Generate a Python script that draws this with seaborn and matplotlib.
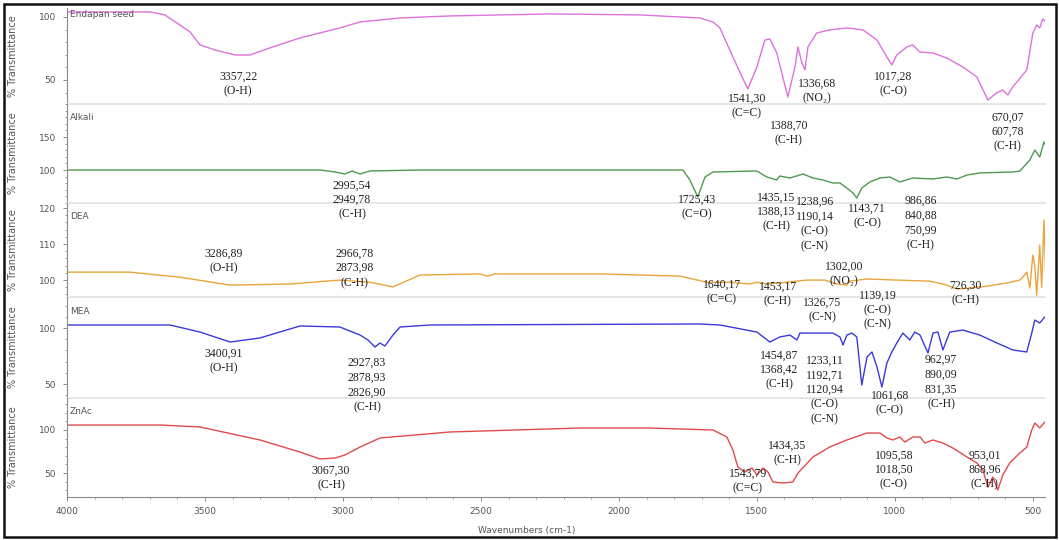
import matplotlib
matplotlib.use("Agg")
import matplotlib.pyplot as plt
from matplotlib.patches import Rectangle
from matplotlib.ticker import AutoMinorLocator, FixedLocator
import seaborn as sns
import pandas as pd

# ---------------- spectra (wavenumber cm-1, % transmittance) ----------------
endapan_wn = [4000, 3699, 3645, 3591, 3554, 3518, 3464, 3391, 3337, 3265, 3156, 3011, 2938,
              2793, 2612, 2250, 1924, 1707, 1659, 1634, 1587, 1533, 1500, 1471, 1453, 1428,
              1388, 1362, 1351, 1337, 1326, 1315, 1283, 1236, 1174, 1116, 1065, 1029, 1011,
              993, 957, 935, 910, 862, 812, 754, 703, 663, 631, 609, 591, 573, 522, 500,
              486, 475, 464, 450]
endapan_t = [104.0, 104.0, 101.6, 93.6, 88.1, 77.8, 73.8, 69.8, 69.8, 75.4, 83.3, 91.3, 96.0,
             99.2, 100.8, 102.4, 101.6, 99.2, 96.0, 91.3, 68.2, 42.8, 60.3, 81.7, 82.5, 71.4,
             36.5, 60.3, 76.2, 63.5, 57.9, 76.2, 87.3, 89.7, 91.3, 89.7, 81.7, 68.2, 61.9,
             69.8, 76.2, 77.8, 72.2, 71.4, 67.4, 60.3, 52.4, 34.1, 39.7, 42.0, 38.1, 44.4,
             57.9, 87.3, 93.6, 91.3, 98.4, 95.2]

alkali_wn = [4000, 3083, 3029, 2993, 2967, 2938, 2902, 2721, 1768, 1743, 1714, 1688, 1659,
             1500, 1464, 1428, 1417, 1380, 1333, 1297, 1261, 1225, 1199, 1174, 1152, 1138,
             1120, 1091, 1054, 1018, 982, 935, 862, 812, 775, 739, 692, 573, 547, 511, 493,
             475, 460, 450]
alkali_t = [100.0, 100.0, 97.0, 93.9, 98.5, 93.9, 98.5, 100.0, 100.0, 84.9, 59.1, 89.4, 97.0,
            98.5, 89.4, 84.9, 90.9, 87.9, 93.9, 87.9, 84.9, 80.3, 80.3, 72.7, 65.2, 57.6,
            72.7, 81.8, 87.9, 89.4, 81.8, 87.9, 86.4, 89.4, 86.4, 92.4, 95.5, 97.0, 98.5,
            115.2, 130.3, 119.7, 142.4, 134.8]

dea_wn = [4000, 3772, 3591, 3409, 3192, 3011, 2902, 2819, 2721, 2504, 2478, 2449, 2069, 1779,
          1681, 1598, 1525, 1500, 1464, 1391, 1319, 1254, 1210, 1174, 1163, 1101, 993, 873,
          812, 775, 728, 667, 594, 547, 533, 522, 511, 500, 493, 486, 475, 468, 460, 453, 450]
dea_t = [102.2, 102.2, 100.8, 98.6, 98.9, 100.0, 99.4, 98.1, 101.4, 101.7, 101.1, 101.7, 101.7,
         101.1, 99.4, 99.4, 98.9, 99.4, 98.9, 99.4, 100.0, 100.0, 98.9, 98.6, 99.7, 100.3,
         100.0, 99.7, 98.6, 97.5, 97.8, 98.3, 99.2, 100.0, 101.1, 102.2, 97.8, 106.9, 104.0,
         95.8, 109.7, 98.0, 116.7, 100.0, 112.5]

mea_wn = [4000, 3627, 3518, 3409, 3301, 3156, 3011, 2938, 2909, 2884, 2866, 2848, 2819, 2793,
          2685, 1707, 1634, 1500, 1453, 1417, 1380, 1355, 1344, 1225, 1199, 1188, 1174, 1156,
          1138, 1120, 1101, 1083, 1065, 1047, 1029, 1011, 993, 971, 946, 928, 909, 880, 862,
          844, 826, 801, 754, 692, 630, 573, 522, 504, 493, 475, 457, 439]
mea_t = [102.7, 102.7, 96.4, 87.5, 91.1, 101.8, 100.9, 93.7, 89.3, 83.0, 86.6, 83.9, 93.7,
         100.9, 102.7, 103.6, 102.7, 96.4, 87.5, 92.0, 93.7, 89.3, 95.5, 95.5, 92.0, 84.8,
         93.7, 95.5, 92.0, 49.1, 74.1, 78.6, 65.2, 47.3, 68.7, 78.6, 86.6, 95.5, 89.3, 96.4,
         93.7, 77.7, 95.5, 96.4, 80.4, 96.4, 98.2, 93.7, 86.6, 80.4, 78.6, 95.5, 107.1,
         104.5, 109.8, 104.5]

znac_wn = [4000, 3663, 3518, 3301, 3156, 3083, 3029, 2993, 2938, 2866, 2612, 2141, 1888, 1659,
           1609, 1587, 1569, 1544, 1518, 1500, 1478, 1460, 1442, 1406, 1370, 1351, 1297, 1236,
           1174, 1101, 1054, 1029, 1007, 982, 964, 935, 909, 891, 862, 826, 790, 739, 703,
           681, 663, 645, 627, 609, 584, 547, 522, 504, 493, 475, 457, 439]
znac_t = [105.8, 105.8, 103.5, 88.4, 74.4, 66.3, 67.4, 70.9, 80.2, 90.7, 97.7, 102.3, 102.3,
          100.0, 91.9, 76.7, 57.0, 51.2, 55.8, 47.7, 55.8, 51.2, 39.5, 38.4, 39.5, 50.0, 68.6,
          80.2, 88.4, 96.5, 96.5, 90.7, 88.4, 91.9, 86.0, 91.9, 91.9, 84.9, 88.4, 84.9, 79.1,
          68.6, 61.6, 53.5, 33.7, 45.3, 30.2, 47.7, 61.6, 73.3, 80.2, 100.0, 108.1, 102.3,
          109.3, 105.8]

sample_names = ["Endapan seed", "Alkali", "DEA", "MEA", "ZnAc"]
line_colors = ["#dd72dd", "#4f9a4f", "#e8a53c", "#3a3ad8", "#e04a4a"]
y_limits = [(30.9, 107.1), (50, 200), (95.3, 121.4), (37.5, 127.7), (22.1, 137.2)]
y_ticks = [[50, 100], [100, 150], [100, 110, 120], [50, 100], [50, 100]]

# peak assignments: (text, wavenumber position, %T position)
peak_labels = [
    [("3357,22\n(O-H)", 3380, 46.8), ("1541,30\n(C=C)", 1536, 29.3),
     ("1336,68\n(NO\u2082)", 1283, 41.2), ("1388,70\n(C-H)", 1384, 7.9),
     ("1017,28\n(C-O)", 1007, 46.8), ("670,07\n607,78\n(C-H)", 591, 8.7)],
    [("2995,54\n2949,78\n(C-H)", 2967, 54.5), ("1725,43\n(C=O)", 1717, 43.9),
     ("1435,15\n1388,13\n(C-H)", 1431, 36.4), ("1238,96\n1190,14\n(C-O)\n(C-N)", 1290, 18.2),
     ("1143,71\n(C-O)", 1101, 30.3), ("986,86\n840,88\n750,99\n(C-H)", 906, 19.7)],
    [("3286,89\n(O-H)", 3431, 105.3), ("2966,78\n2873,98\n(C-H)", 2957, 103.3),
     ("1640,17\n(C=C)", 1627, 96.7), ("1453,17\n(C-H)", 1424, 96.1),
     ("1302,00\n(NO\u2082)", 1185, 101.7), ("1326,75\n(C-N)", 1264, 91.7),
     ("1139,19\n(C-O)\n(C-N)", 1062, 91.7), ("726,30\n(C-H)", 746, 96.4)],
    [("3400,91\n(O-H)", 3431, 70.5), ("2927,83\n2878,93\n2826,90\n(C-H)", 2913, 49.1),
     ("1454,87\n1368,42\n(C-H)", 1420, 62.5),
     ("1233,11\n1192,71\n1120,94\n(C-O)\n(C-N)", 1254, 44.6),
     ("1061,68\n(C-O)", 1018, 33.0), ("962,97\n890,09\n831,35\n(C-H)", 833, 51.8)],
    [("3067,30\n(C-H)", 3043, 44.2), ("1543,79\n(C=C)", 1533, 40.7),
     ("1434,35\n(C-H)", 1391, 73.3), ("1095,58\n1018,50\n(C-O)", 1004, 53.5),
     ("953,01\n868,96\n(C-H)", 674, 53.5)],
]

spectra = [(endapan_wn, endapan_t), (alkali_wn, alkali_t), (dea_wn, dea_t),
           (mea_wn, mea_t), (znac_wn, znac_t)]

x_ticks = [4000, 3500, 3000, 2500, 2000, 1500, 1000, 500]

# ---------------- figure ----------------
sns.set_theme(style="white")
plt.rcParams["font.family"] = ["DejaVu Sans"]

W, H = 1059, 540
fig = plt.figure(figsize=(W / 100, H / 100), dpi=100)
fig.patch.set_facecolor("white")

panel_bounds = [(8, 104), (104, 203), (203, 297), (297, 398), (398, 497)]
left_px, right_px = 67, 1045
serif = ["Liberation Serif", "DejaVu Serif"]
axis_grey = "#8a8a8a"
text_grey = "#555555"

axes = []
for i, (top, bot) in enumerate(panel_bounds):
    ax = fig.add_axes([left_px / W, 1 - bot / H, (right_px - left_px) / W, (bot - top) / H])
    axes.append(ax)
    df = pd.DataFrame({"wavenumber": spectra[i][0], "transmittance": spectra[i][1]})
    sns.lineplot(data=df, x="wavenumber", y="transmittance", ax=ax, color=line_colors[i],
                 lw=1.0, sort=False, estimator=None)
    ax.set_xlim(4000, 456)
    ax.set_ylim(*y_limits[i])
    ax.set_facecolor("none")
    for s in ["top", "right"]:
        ax.spines[s].set_visible(False)
    ax.spines["left"].set_color(axis_grey)
    ax.spines["left"].set_linewidth(0.8)
    last = i == len(panel_bounds) - 1
    ax.spines["bottom"].set_color(axis_grey if last else "#e2e2e2")
    ax.spines["bottom"].set_linewidth(0.8 if last else 1.2)

    ax.yaxis.set_major_locator(FixedLocator(y_ticks[i]))
    ax.yaxis.set_minor_locator(AutoMinorLocator(5))
    ax.tick_params(axis="y", which="major", left=True, length=3, width=0.7, color=axis_grey,
                   labelsize=6.5, labelcolor=text_grey, pad=5)
    ax.tick_params(axis="y", which="minor", left=True, length=1.6, width=0.6, color=axis_grey)

    ax.xaxis.set_major_locator(FixedLocator(x_ticks))
    ax.xaxis.set_minor_locator(AutoMinorLocator(5))
    if last:
        ax.tick_params(axis="x", which="major", bottom=True, length=3, width=0.7,
                       color=axis_grey, labelsize=6.5, labelcolor=text_grey, pad=4)
        ax.tick_params(axis="x", which="minor", bottom=True, length=1.6, width=0.6,
                       color=axis_grey)
        ax.set_xlabel("Wavenumbers (cm-1)", fontsize=6.5, color=text_grey)
        ax.xaxis.set_label_coords(0.47, -0.29)
    else:
        ax.tick_params(axis="x", which="both", bottom=False, labelbottom=False)
        ax.set_xlabel("")

    ax.set_ylabel("% Transmittance", fontsize=7, color=text_grey)
    ax.yaxis.set_label_coords(-0.05, 0.5)

    ax.text(0.003, 0.93 if i == 0 else 0.86, sample_names[i], transform=ax.transAxes,
            fontsize=6.5, color=text_grey, ha="left", va="center")

    for label, wx, ty in peak_labels[i]:
        ax.text(wx, ty, label, ha="center", va="center", fontsize=8.5, family=serif,
                color="#222222", linespacing=1.3, clip_on=False)

# outer frame
fig.add_artist(Rectangle((4 / W, 3 / H), 1052 / W, 533 / H, transform=fig.transFigure,
                         fill=False, edgecolor="#111111", lw=1.8))

fig.savefig("out.png", dpi=100, facecolor="white")
